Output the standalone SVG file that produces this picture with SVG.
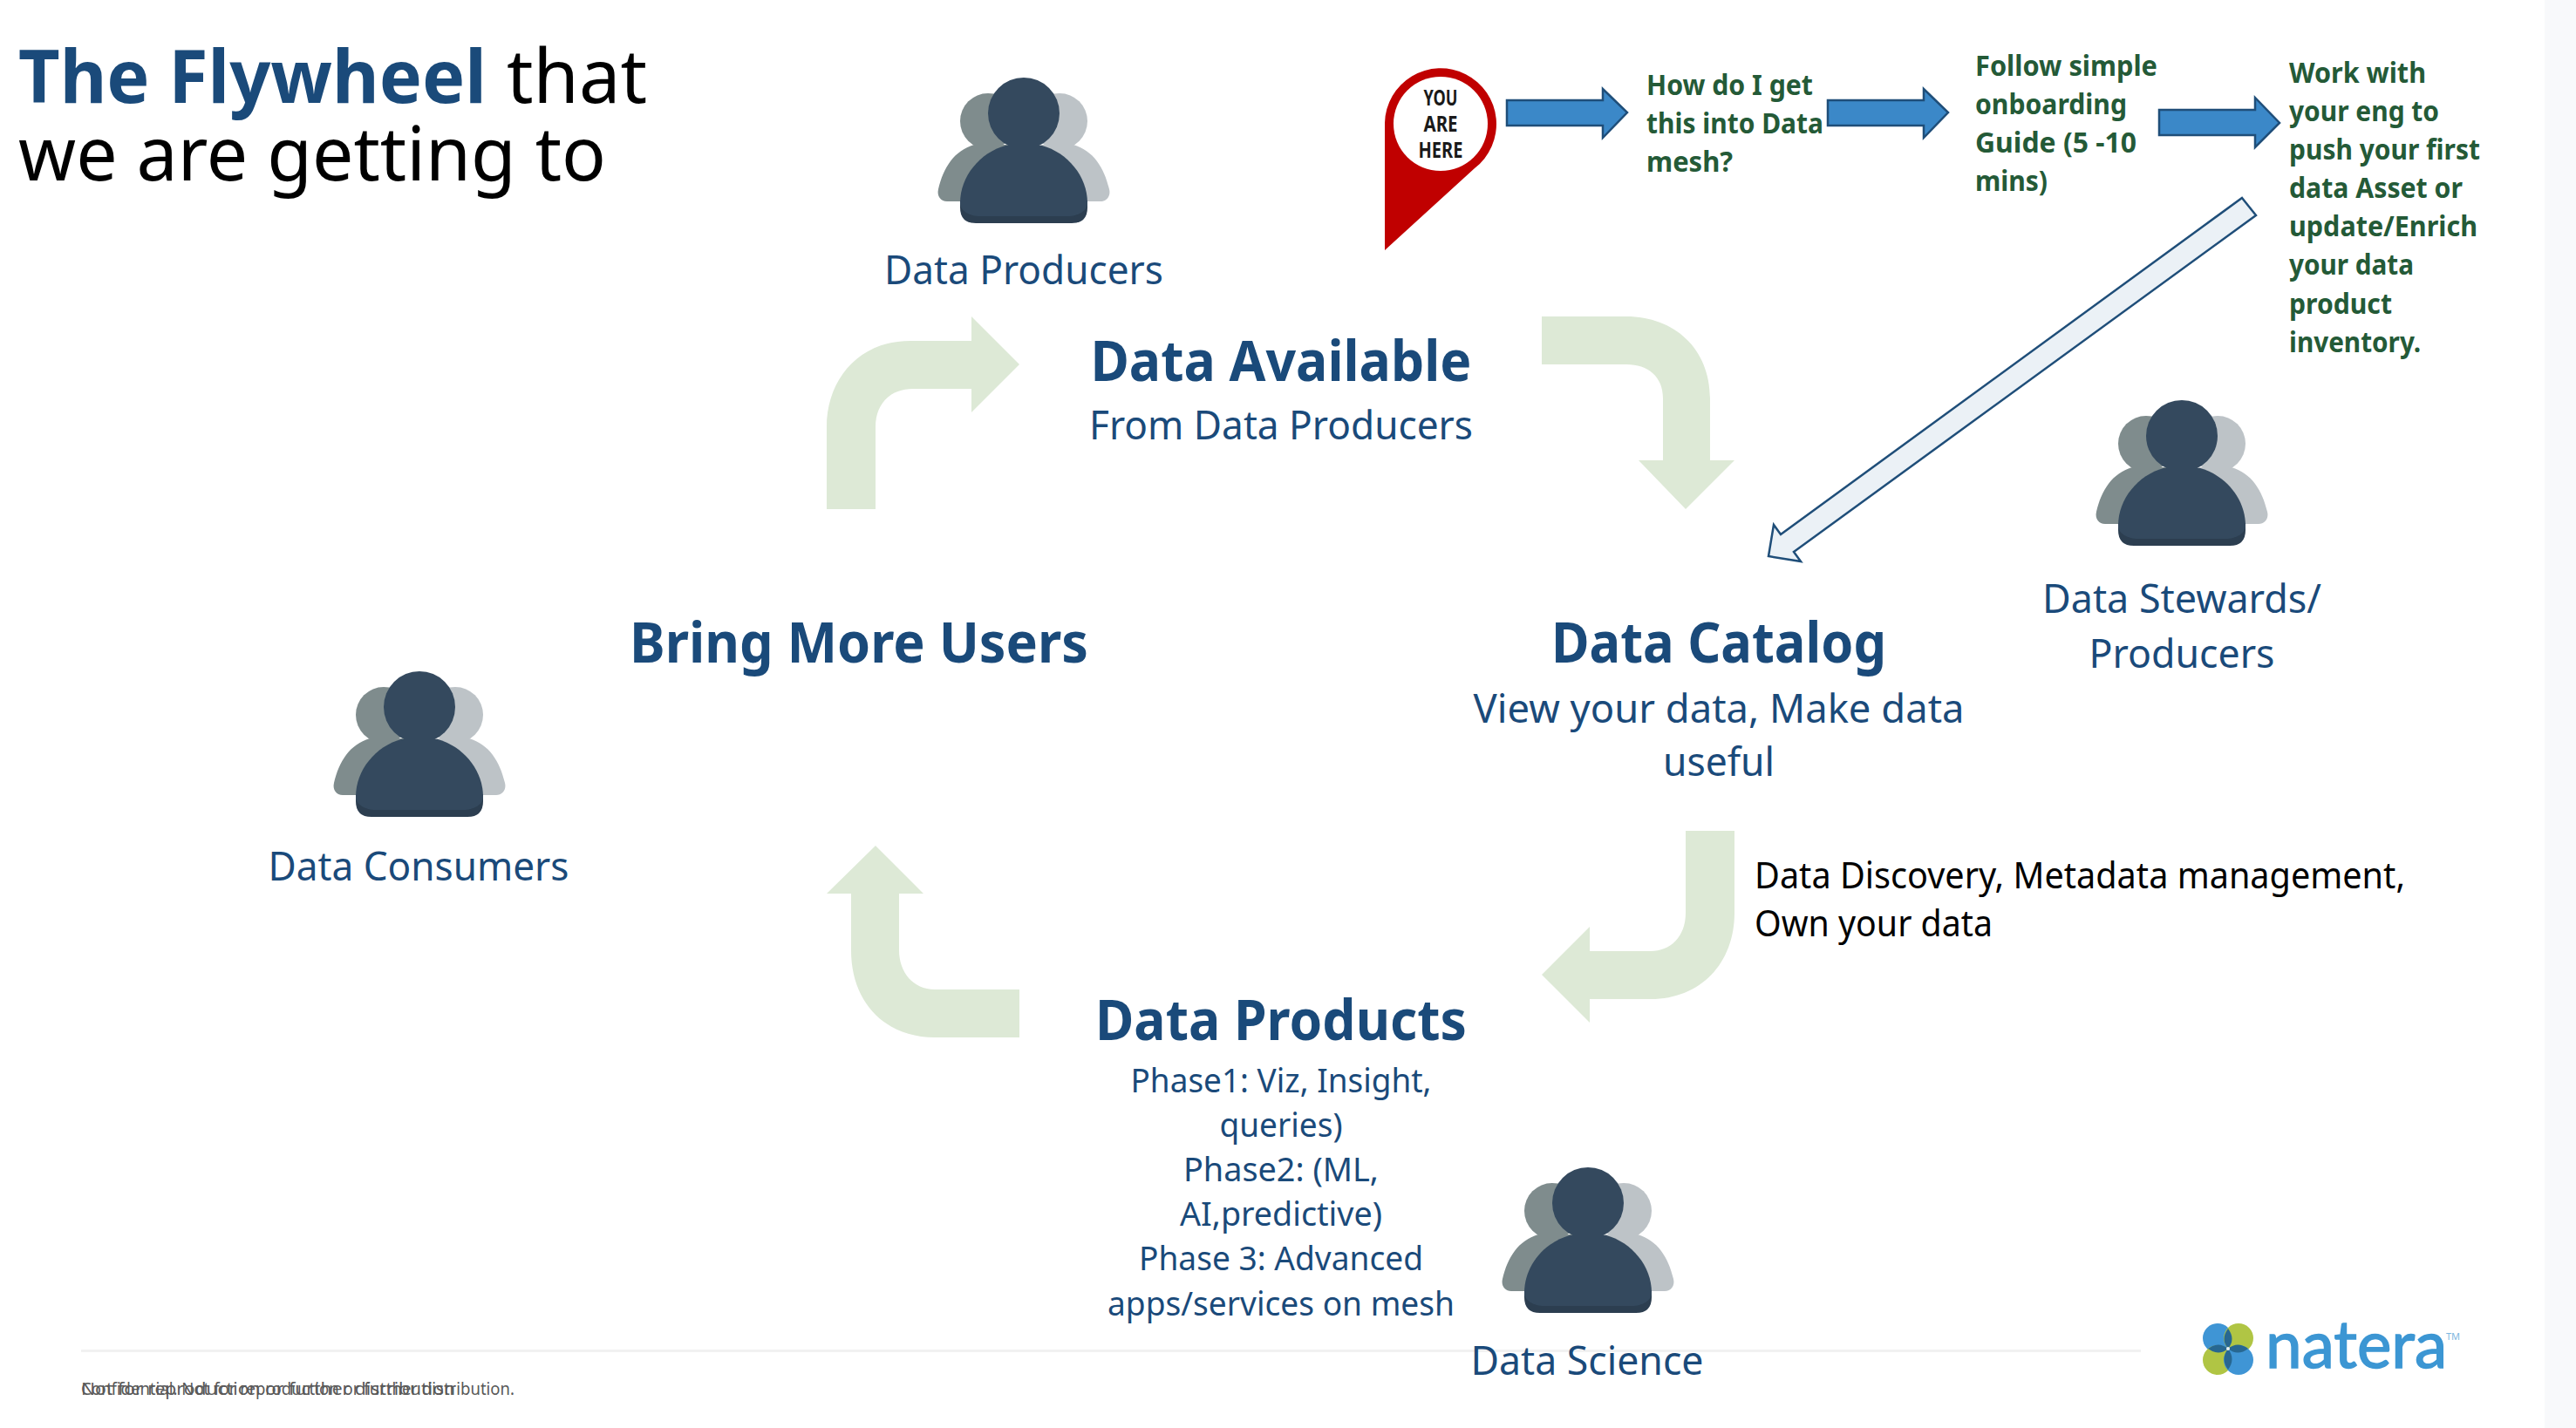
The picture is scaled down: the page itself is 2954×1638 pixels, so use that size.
<svg xmlns="http://www.w3.org/2000/svg" xmlns:xlink="http://www.w3.org/1999/xlink" width="2954" height="1638" viewBox="0 0 2954 1638">
<style>
text{font-family:"Noto Sans","Open Sans","Liberation Sans",sans-serif}
.h{font-size:64px;font-weight:700;fill:#1a4a7a;text-anchor:middle}
.l{font-size:46px;fill:#1a4a7a;text-anchor:middle}
.p{font-size:38px;fill:#1a4a7a;text-anchor:middle}
.g{font-size:32px;font-weight:700;fill:#245a37}
.t{font-size:85px;fill:#000}
.k{font-size:42px;fill:#000}
.f{font-size:19px;fill:#595959}
.y{font-size:25px;font-weight:700;fill:#1a1a1a;text-anchor:middle}
.bend{fill:#dde9d6}
.blue{fill:#3b88c8;stroke:#1f4e79;stroke-width:2.5}
</style>
<defs>
<g id="person">
<circle cx="-41" cy="9" r="32" fill="#7f8c8d"/>
<path d="M-57 36C-80 43-92 62-98 87C-100 95-95 101-88 101H0V36Z" fill="#7f8c8d"/>
<circle cx="41" cy="9" r="32" fill="#bdc3c7"/>
<path d="M57 36C80 43 92 62 98 87C100 95 95 101 88 101H0V36Z" fill="#bdc3c7"/>
<path d="M-73 100V108Q-73 126-55 126H55Q73 126 73 108V100Z" fill="#2c3e50"/>
<circle cx="0" cy="0" r="41" fill="#34495e"/>
<path d="M-21 37C-50 45-73 72-73 103C-73 112-62 118-50 118H50C62 118 73 112 73 103C73 72 50 45 21 37Z" fill="#34495e"/>
</g>
</defs>
<rect width="2954" height="1638" fill="#fff"/>
<rect x="2918" width="36" height="1638" fill="#f8f9fb"/>
<rect x="93" y="1548" width="2362" height="3" fill="#f1f1f1"/>
<g id="title"><text class="t" y="118"><tspan x="21" font-weight="700" fill="#1a4a7a" textLength="537" lengthAdjust="spacingAndGlyphs">The Flywheel</tspan><tspan x="581" textLength="161" lengthAdjust="spacingAndGlyphs">that</tspan></text><text class="t" x="21" y="207" textLength="674" lengthAdjust="spacingAndGlyphs">we are getting to</text></g>
<g id="connectors">
<path class="bend" d="M948 584V490C948 435 985 391 1044 391H1114V363L1169 418L1114 473V446H1047C1022 446 1004 462 1004 490V584Z"/>
<path class="bend" d="M1768 363H1865C1920 363 1961 400 1961 457V528H1989L1933 584L1879 528H1907V457C1907 432 1890 418 1865 418H1768Z"/>
<path class="bend" d="M1989 953V1047C1989 1105 1950 1146 1893 1146H1823V1173L1768 1118L1823 1063V1091H1893C1915 1091 1933 1075 1933 1047V953Z"/>
<path class="bend" d="M1169 1190H1072C1015 1190 976 1150 976 1090V1025H948L1004 970L1059 1025H1031V1090C1031 1115 1047 1135 1072 1135H1169Z"/>
<path class="blue" d="M1728 115H1838V102L1866 129L1838 158V144H1728Z"/>
<path class="blue" d="M2096 115H2206V102L2234 129L2206 158V144H2096Z"/>
<path class="blue" d="M2476 126H2586V112L2614 141L2586 169V155H2476Z"/>
<path d="M2571 227L2587 247L2057 633L2065 644L2028 638L2034 602L2042 613Z" fill="#ebf1f6" stroke="#1f4e79" stroke-width="2.5"/>
</g>
<g id="pin"><path d="M1588 141A64 64 0 1 1 1691 193L1588 287Z" fill="#c00000"/><circle cx="1652" cy="142" r="54" fill="#fff"/>
<text class="y" x="1652" y="121" textLength="39" lengthAdjust="spacingAndGlyphs">YOU</text><text class="y" x="1652" y="151" textLength="39" lengthAdjust="spacingAndGlyphs">ARE</text><text class="y" x="1652" y="181" textLength="51" lengthAdjust="spacingAndGlyphs">HERE</text></g>
<g id="step1"><text class="g" x="1888" y="109" textLength="191" lengthAdjust="spacingAndGlyphs">How do I get</text><text class="g" x="1888" y="153" textLength="203" lengthAdjust="spacingAndGlyphs">this into Data</text><text class="g" x="1888" y="197" textLength="99" lengthAdjust="spacingAndGlyphs">mesh?</text></g>
<g id="step2"><text class="g" x="2265" y="87" textLength="209" lengthAdjust="spacingAndGlyphs">Follow simple</text><text class="g" x="2265" y="131" textLength="174" lengthAdjust="spacingAndGlyphs">onboarding</text><text class="g" x="2265" y="175" textLength="185" lengthAdjust="spacingAndGlyphs">Guide (5 -10</text><text class="g" x="2265" y="219" textLength="83" lengthAdjust="spacingAndGlyphs">mins)</text></g>
<g id="step3"><text class="g" x="2625" y="95" textLength="157" lengthAdjust="spacingAndGlyphs">Work with</text><text class="g" x="2625" y="139" textLength="172" lengthAdjust="spacingAndGlyphs">your eng to</text><text class="g" x="2625" y="183" textLength="219" lengthAdjust="spacingAndGlyphs">push your first</text><text class="g" x="2625" y="227" textLength="199" lengthAdjust="spacingAndGlyphs">data Asset or</text><text class="g" x="2625" y="271" textLength="216" lengthAdjust="spacingAndGlyphs">update/Enrich</text><text class="g" x="2625" y="315" textLength="143" lengthAdjust="spacingAndGlyphs">your data</text><text class="g" x="2625" y="360" textLength="118" lengthAdjust="spacingAndGlyphs">product</text><text class="g" x="2625" y="404" textLength="151" lengthAdjust="spacingAndGlyphs">inventory.</text></g>
<g id="producers"><use xlink:href="#person" href="#person" x="1174" y="130"/><text class="l" x="1174" y="326" textLength="320" lengthAdjust="spacingAndGlyphs">Data Producers</text></g>
<g id="stewards"><use xlink:href="#person" href="#person" x="2502" y="500"/><text class="l" x="2502" y="703" textLength="320" lengthAdjust="spacingAndGlyphs">Data Stewards/</text><text class="l" x="2502" y="766" textLength="213" lengthAdjust="spacingAndGlyphs">Producers</text></g>
<g id="consumers"><use xlink:href="#person" href="#person" x="481" y="811"/><text class="l" x="480" y="1010" textLength="345" lengthAdjust="spacingAndGlyphs">Data Consumers</text></g>
<g id="science"><use xlink:href="#person" href="#person" x="1821" y="1380"/><text class="l" x="1820" y="1577" textLength="267" lengthAdjust="spacingAndGlyphs">Data Science</text></g>
<g id="available"><text class="h" x="1469" y="437" textLength="437" lengthAdjust="spacingAndGlyphs">Data Available</text><text class="l" x="1469" y="504" textLength="440" lengthAdjust="spacingAndGlyphs">From Data Producers</text></g>
<g id="users"><text class="h" x="985" y="760" textLength="526" lengthAdjust="spacingAndGlyphs">Bring More Users</text></g>
<g id="catalog"><text class="h" x="1971" y="760" textLength="384" lengthAdjust="spacingAndGlyphs">Data Catalog</text><text class="l" x="1971" y="829" textLength="563" lengthAdjust="spacingAndGlyphs">View your data, Make data</text><text class="l" x="1971" y="890" textLength="128" lengthAdjust="spacingAndGlyphs">useful</text></g>
<g id="discovery"><text class="k" x="2012" y="1019" textLength="746" lengthAdjust="spacingAndGlyphs">Data Discovery, Metadata management,</text><text class="k" x="2012" y="1074" textLength="273" lengthAdjust="spacingAndGlyphs">Own your data</text></g>
<g id="products"><text class="h" x="1469" y="1193" textLength="426" lengthAdjust="spacingAndGlyphs">Data Products</text><text class="p" x="1469" y="1253" textLength="345" lengthAdjust="spacingAndGlyphs">Phase1: Viz, Insight,</text><text class="p" x="1469" y="1304" textLength="141" lengthAdjust="spacingAndGlyphs">queries)</text><text class="p" x="1469" y="1355" textLength="224" lengthAdjust="spacingAndGlyphs">Phase2: (ML,</text><text class="p" x="1469" y="1406" textLength="232" lengthAdjust="spacingAndGlyphs">AI,predictive)</text><text class="p" x="1469" y="1457" textLength="326" lengthAdjust="spacingAndGlyphs">Phase 3: Advanced</text><text class="p" x="1469" y="1509" textLength="398" lengthAdjust="spacingAndGlyphs">apps/services on mesh</text></g>
<g id="footer"><text class="f" x="93" y="1600" textLength="497" lengthAdjust="spacingAndGlyphs">Confidential. Not for reproduction or further distribution.</text><text class="f" x="93" y="1600" textLength="429" lengthAdjust="spacingAndGlyphs">Not for reproduction or further distribution</text></g>
<g id="logo">
<circle cx="2543" cy="1535" r="17" fill="#3f95d5"/><circle cx="2567" cy="1535" r="17" fill="#b0c544"/><circle cx="2543" cy="1560" r="17" fill="#b0c544"/><circle cx="2567" cy="1560" r="17" fill="#3f95d5"/>
<path d="M2555 1524Q2564 1536 2555 1547Q2546 1536 2555 1524ZM2555 1571Q2564 1559 2555 1547Q2546 1559 2555 1571ZM2532 1547Q2544 1538 2555 1547Q2544 1556 2532 1547ZM2578 1547Q2566 1538 2555 1547Q2566 1556 2578 1547Z" fill="#276791"/>
<circle cx="2555" cy="1547" r="2" fill="#e8f0f4"/>
<text x="2598" y="1569" font-size="76" fill="#3c96d3" stroke="#3c96d3" stroke-width="1.5" style="font-family:Lato,'Noto Sans',sans-serif" textLength="208" lengthAdjust="spacingAndGlyphs">natera</text>
<text x="2805" y="1537" font-size="11" fill="#7fb8e0">TM</text>
</g>
</svg>
